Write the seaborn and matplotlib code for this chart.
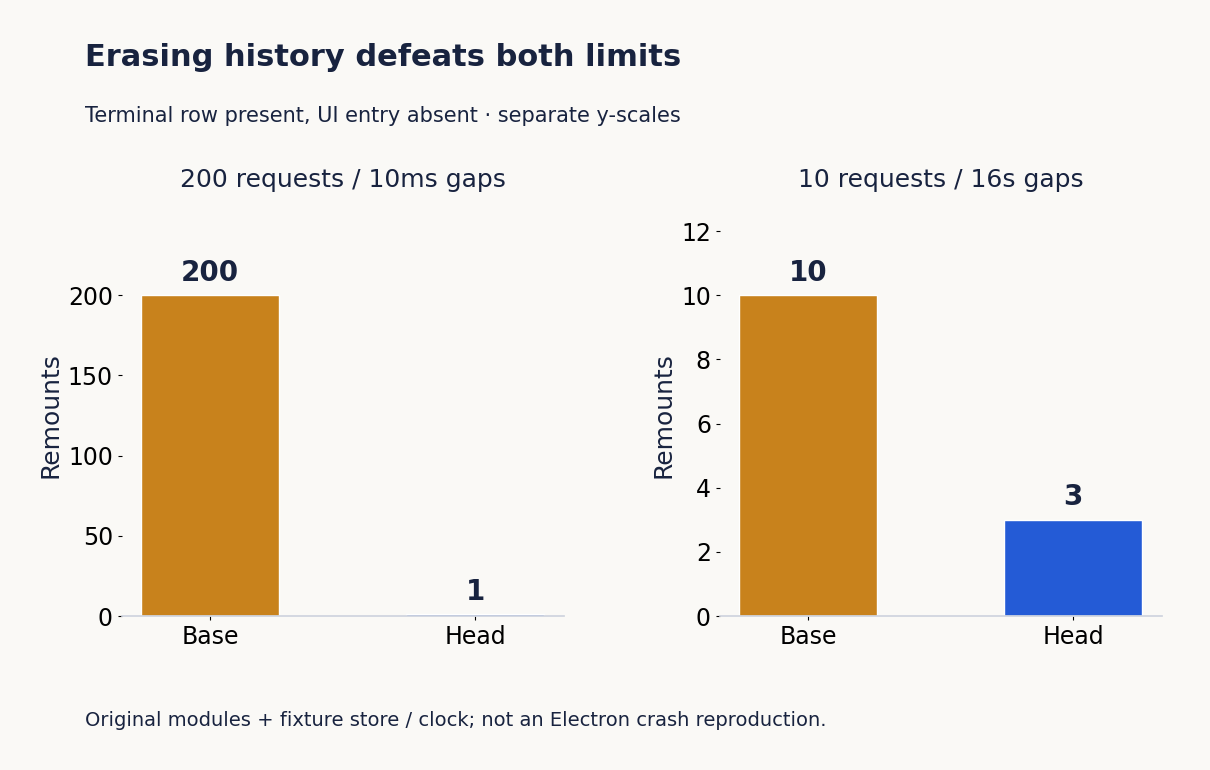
import matplotlib
matplotlib.use("Agg")
import matplotlib.pyplot as plt
import seaborn as sns
import pandas as pd

categories = ["Base", "Head"]
fast_values = [200, 1]
slow_values = [10, 3]
panel_titles = ["200 requests / 10ms gaps", "10 requests / 16s gaps"]
colors = ["#c8821c", "#245bd6"]
bg = "#faf9f6"
ink = "#18233f"

sns.set_theme(style="white")
plt.rcParams['font.family'] = ['DejaVu Sans']

fig = plt.figure(figsize=(12.1, 7.7), dpi=100, facecolor=bg)
axes = [fig.add_axes([122/1210, 1-616/770, 442/1210, 401/770]),
        fig.add_axes([720/1210, 1-616/770, 442/1210, 401/770])]

for ax, vals, title, ticks in zip(axes, [fast_values, slow_values], panel_titles,
                                  [[0, 50, 100, 150, 200], [0, 2, 4, 6, 8, 10, 12]]):
    df = pd.DataFrame({"cat": categories, "val": vals})
    sns.barplot(data=df, x="cat", y="val", hue="cat", palette=colors, width=0.52,
                legend=False, ax=ax, saturation=1)
    ax.set_facecolor(bg)
    ax.set_xlim(-0.333, 1.335)
    ax.set_ylim(0, max(vals) * 1.25)
    ax.set_yticks(ticks)
    for s in ["top", "right", "left"]:
        ax.spines[s].set_visible(False)
    ax.spines["bottom"].set_color("#cfd4de")
    ax.tick_params(axis="both", labelsize=17, colors="black", length=3, width=0.8,
                   bottom=True, left=True)
    ax.tick_params(axis="y", length=3)
    ax.set_xlabel("")
    ax.set_ylabel("Remounts", fontsize=18, color=ink)
    ax.set_title(title, fontsize=18, color=ink, pad=20)
    for i, v in enumerate(vals):
        ax.annotate(str(v), (i, v), xytext=(0, 6), textcoords="offset points",
                    ha="center", va="bottom", fontsize=20, fontweight="bold", color=ink)

fig.text(85/1210, 1-58/770, "Erasing history defeats both limits", fontsize=22,
         fontweight="bold", color=ink, va="center")
fig.text(85/1210, 1-116/770, "Terminal row present, UI entry absent · separate y-scales",
         fontsize=15, color=ink, va="center")
fig.text(85/1210, 1-721/770, "Original modules + fixture store / clock; not an Electron crash reproduction.",
         fontsize=14, color=ink, va="center")

fig.savefig("out.png", dpi=100, facecolor=bg)
